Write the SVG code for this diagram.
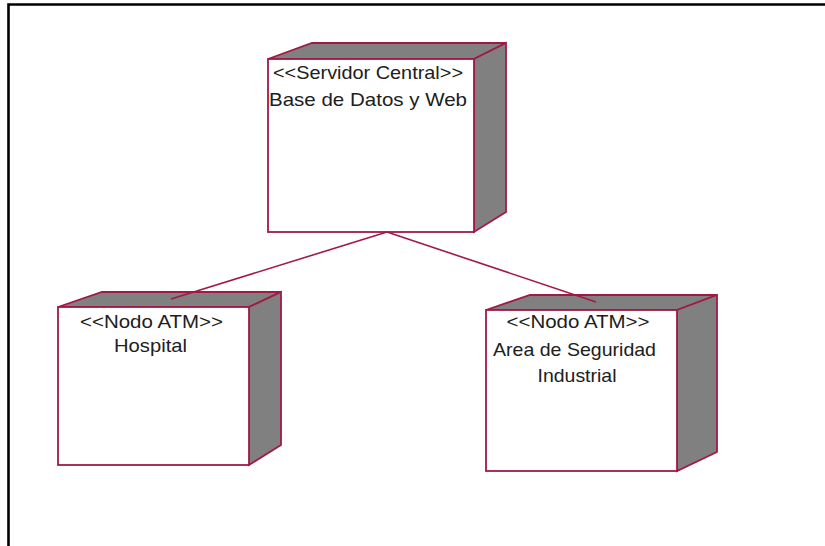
<svg xmlns="http://www.w3.org/2000/svg" width="825" height="546" viewBox="0 0 825 546">
<style>
.front{fill:#ffffff;stroke:#a01a44;stroke-width:1.8}
.side{fill:#808080;stroke:#a01a44;stroke-width:1.8;stroke-linejoin:miter}
.lbl{font-family:"Liberation Sans",Arial,sans-serif;font-size:19px;fill:#202020;text-anchor:middle}
.conn{stroke:#a01a44;stroke-width:1.6;fill:none}
</style>
<rect x="0" y="0" width="825" height="546" fill="#ffffff"/>
<path d="M8.5,546 V4.5 H825" fill="none" stroke="#000" stroke-width="2.6"/>
<g id="node-servidor">
<polygon class="side" points="268,59 312,43 506,43 474,59"/>
<polygon class="side" points="474,59 506,43 506,212 474,232"/>
<rect class="front" x="268" y="59" width="206" height="173"/>
<text class="lbl" x="368" y="79" textLength="190" lengthAdjust="spacingAndGlyphs">&lt;&lt;Servidor Central&gt;&gt;</text>
<text class="lbl" x="368" y="106" textLength="198" lengthAdjust="spacingAndGlyphs">Base de Datos y Web</text>
</g>
<g id="node-hospital">
<polygon class="side" points="58,307 102,292 281,292 249,307"/>
<polygon class="side" points="249,307 281,292 281,445 249,465"/>
<rect class="front" x="58" y="307" width="191" height="158"/>
<text class="lbl" x="151.5" y="328" textLength="143" lengthAdjust="spacingAndGlyphs">&lt;&lt;Nodo ATM&gt;&gt;</text>
<text class="lbl" x="150.5" y="352" textLength="73" lengthAdjust="spacingAndGlyphs">Hospital</text>
</g>
<g id="node-area">
<polygon class="side" points="486,310 530,295 717,295 677,310"/>
<polygon class="side" points="677,310 717,295 717,452 677,471"/>
<rect class="front" x="486" y="310" width="191" height="161"/>
<text class="lbl" x="578" y="328" textLength="143" lengthAdjust="spacingAndGlyphs">&lt;&lt;Nodo ATM&gt;&gt;</text>
<text class="lbl" x="574.5" y="356" textLength="163" lengthAdjust="spacingAndGlyphs">Area de Seguridad</text>
<text class="lbl" x="577" y="382" textLength="79" lengthAdjust="spacingAndGlyphs">Industrial</text>
</g>
<g id="connectors">
<line class="conn" x1="387" y1="232" x2="171" y2="299"/>
<line class="conn" x1="387" y1="232" x2="596" y2="302"/>
</g>
</svg>
